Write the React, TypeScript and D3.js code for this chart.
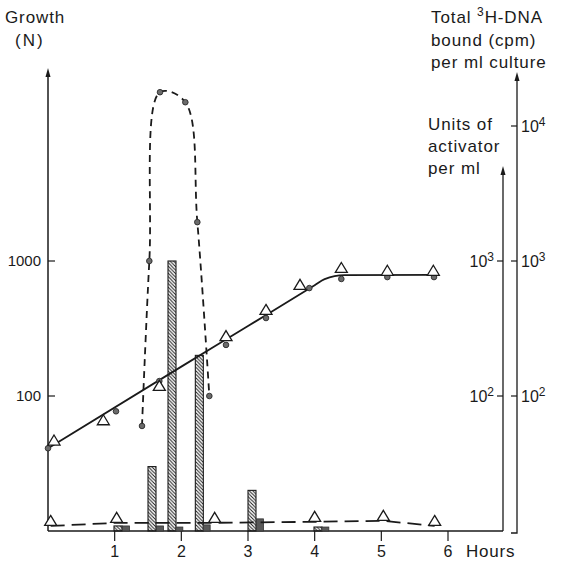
import React, { useEffect, useRef } from "react";
import * as d3 from "d3";

// hours on x, all y axes share one log scale (one decade ~135px)
const hourTicks = [1, 2, 3, 4, 5, 6];
const leftTicks = [100, 1000];
const activatorTicks = [100, 1000];
const boundTicks = [100, 1000, 10000];

// growth (N): open triangles and filled dots, plus the fitted curve
const growthTriangles: [number, number][] = [
  [0.09, 46], [0.83, 65], [1.67, 117], [2.67, 273], [3.27, 427],
  [3.78, 655], [4.4, 873], [5.09, 832], [5.78, 832],
];
const growthDots: [number, number][] = [
  [0, 41], [1.02, 77], [1.67, 129], [2.67, 239], [3.27, 378],
  [3.92, 630], [4.4, 736], [5.09, 760], [5.79, 760],
];
const growthFit: [number, number][] = [
  [0, 41], [2, 165], [3, 330], [4, 661], [4.15, 735], [4.45, 785], [5.8, 790],
];

// total 3H-DNA bound (cpm) per ml culture
const boundDNA: [number, number][] = [
  [1.41, 60], [1.52, 1000], [1.68, 17800], [2.06, 15000], [2.24, 1940], [2.42, 100],
];

// units of activator per ml (hatched) and control (dark boxes)
const activatorHours = [1.05, 1.56, 1.86, 2.27, 3.06, 4.05];
const activatorUnits = [10.9, 30, 1000, 200, 20, 10.7];
const controlHours = [1.17, 1.68, 1.97, 2.38, 3.18, 4.16];
const controlUnits = [10.9, 10.9, 10.7, 11.1, 12.3, 10.7];

// lower dashed series with triangles
const baselineHours = [0.04, 1.03, 2.5, 4.0, 5.03, 5.8];
const baselineValues = [10.9, 11.5, 11.5, 11.7, 11.9, 10.9];

const App = () => {
  const svgRef = useRef<SVGSVGElement>(null);

  useEffect(() => {
    const width = 565;
    const height = 563;
    const svg = d3.select(svgRef.current).attr("width", width).attr("height", height);
    svg.selectAll("*").remove();

    const ink = "#1a1a1a";
    const font = "'Liberation Sans', Arial, sans-serif";

    const x = d3.scaleLinear().domain([0, 6]).range([48, 448]);
    const y = d3.scaleLog().domain([10, 10000]).range([531, 126]);

    const xLeft = 48;
    const xInner = 503;
    const xOuter = 517;
    const yBase = y(10);

    // hatch pattern for activator bars
    const defs = svg.append("defs");
    defs.append("pattern")
      .attr("id", "hatch")
      .attr("patternUnits", "userSpaceOnUse")
      .attr("width", 3.5)
      .attr("height", 3.5)
      .append("path")
      .attr("d", "M-1,-1 L4.5,4.5 M2.5,-1 L4.5,1 M-1,2.5 L1,4.5")
      .attr("stroke", ink)
      .attr("stroke-width", 1);

    const arrow = (ax: number, tipY: number) => {
      svg.append("path")
        .attr("d", `M${ax},${tipY} L${ax - 2.5},${tipY + 9} L${ax + 2.5},${tipY + 9} Z`)
        .attr("fill", ink);
    };

    // === AXES ===
    svg.append("line")
      .attr("x1", xLeft).attr("x2", xLeft)
      .attr("y1", yBase).attr("y2", 72)
      .attr("stroke", ink).attr("stroke-width", 1.5);
    arrow(xLeft, 68);

    svg.append("line")
      .attr("x1", xLeft).attr("x2", xInner)
      .attr("y1", yBase).attr("y2", yBase)
      .attr("stroke", ink).attr("stroke-width", 1.5);

    svg.append("line")
      .attr("x1", xInner).attr("x2", xInner)
      .attr("y1", yBase).attr("y2", 170)
      .attr("stroke", ink).attr("stroke-width", 1.3);
    arrow(xInner, 166);

    svg.append("path")
      .attr("d", `M${xOuter - 6},${yBase + 2} L${xOuter},${yBase + 2} L${xOuter},76`)
      .attr("fill", "none")
      .attr("stroke", ink).attr("stroke-width", 1.3);
    arrow(xOuter, 72);

    // x ticks
    hourTicks.forEach(h => {
      svg.append("line")
        .attr("x1", x(h)).attr("x2", x(h))
        .attr("y1", yBase).attr("y2", yBase + 10)
        .attr("stroke", ink).attr("stroke-width", 1.2);
      svg.append("text")
        .attr("x", x(h)).attr("y", 557)
        .attr("text-anchor", "middle")
        .attr("font-family", font).attr("font-size", 16).attr("fill", ink)
        .text(h);
    });
    svg.append("text")
      .attr("x", 466).attr("y", 557)
      .attr("font-family", font).attr("font-size", 17).attr("fill", ink)
      .attr("letter-spacing", 0.8)
      .text("Hours");

    // left ticks
    leftTicks.forEach(v => {
      svg.append("line")
        .attr("x1", xLeft).attr("x2", xLeft + 7)
        .attr("y1", y(v)).attr("y2", y(v))
        .attr("stroke", ink).attr("stroke-width", 1.2);
      svg.append("text")
        .attr("x", 41).attr("y", y(v)).attr("dy", "0.35em")
        .attr("text-anchor", "end")
        .attr("font-family", font).attr("font-size", 15).attr("fill", ink)
        .text(v);
    });

    const powerLabel = (px: number, py: number, exp: number, anchor: string) => {
      const t = svg.append("text")
        .attr("x", px).attr("y", py).attr("dy", "0.35em")
        .attr("text-anchor", anchor)
        .attr("font-family", font).attr("font-size", 16).attr("fill", ink);
      t.append("tspan").text("10");
      t.append("tspan").attr("dy", "-0.5em").attr("font-size", 12).text(exp);
    };

    activatorTicks.forEach(v => {
      svg.append("line")
        .attr("x1", xInner - 6).attr("x2", xInner)
        .attr("y1", y(v)).attr("y2", y(v))
        .attr("stroke", ink).attr("stroke-width", 1.2);
      powerLabel(494, y(v), Math.round(Math.log10(v)), "end");
    });

    boundTicks.forEach(v => {
      svg.append("line")
        .attr("x1", xOuter - 6).attr("x2", xOuter)
        .attr("y1", y(v)).attr("y2", y(v))
        .attr("stroke", ink).attr("stroke-width", 1.2);
      powerLabel(521, y(v), Math.round(Math.log10(v)), "start");
    });

    // axis titles
    const title = (lines: string[], tx: number, ty: number, lh: number) => {
      lines.forEach((s, i) => {
        svg.append("text")
          .attr("x", tx).attr("y", ty + i * lh)
          .attr("font-family", font).attr("font-size", 17).attr("fill", ink)
          .attr("letter-spacing", 0.9)
          .text(s);
      });
    };
    title(["Growth"], 5, 23, 22);
    svg.append("text")
      .attr("x", 15).attr("y", 46)
      .attr("font-family", font).attr("font-size", 17).attr("fill", ink)
      .attr("letter-spacing", 2)
      .text("(N)");

    const total = svg.append("text")
      .attr("x", 431).attr("y", 23)
      .attr("font-family", font).attr("font-size", 17).attr("fill", ink)
      .attr("letter-spacing", 0.9);
    total.append("tspan").text("Total ");
    total.append("tspan").attr("dy", -7).attr("font-size", 12).text("3");
    total.append("tspan").attr("dy", 7).text("H-DNA");
    title(["bound (cpm)", "per ml culture"], 431, 46, 22);
    title(["Units of", "activator", "per ml"], 428, 130, 22);

    // === ACTIVATOR BARS ===
    const hatchW = 0.12;
    activatorHours.forEach((h, i) => {
      svg.append("rect")
        .attr("x", x(h - hatchW / 2))
        .attr("y", y(activatorUnits[i]))
        .attr("width", x(hatchW) - x(0))
        .attr("height", yBase - y(activatorUnits[i]))
        .attr("fill", "url(#hatch)")
        .attr("stroke", ink).attr("stroke-width", 1.1);
    });
    const ctrlW = 0.105;
    controlHours.forEach((h, i) => {
      svg.append("rect")
        .attr("x", x(h - ctrlW / 2))
        .attr("y", y(controlUnits[i]))
        .attr("width", x(ctrlW) - x(0))
        .attr("height", yBase - y(controlUnits[i]))
        .attr("fill", "#595959")
        .attr("stroke", "#333").attr("stroke-width", 0.8);
    });

    // === LINES ===
    const line = d3.line<[number, number]>()
      .x(d => x(d[0]))
      .y(d => y(d[1]));

    svg.append("path")
      .attr("d", line.curve(d3.curveMonotoneX)(growthFit))
      .attr("fill", "none")
      .attr("stroke", ink).attr("stroke-width", 1.8);

    svg.append("path")
      .attr("d", d3.line<[number, number]>()
        .x(d => x(d[0])).y(d => y(d[1]))
        .curve(d3.curveCatmullRom.alpha(0.5))(boundDNA))
      .attr("fill", "none")
      .attr("stroke", ink).attr("stroke-width", 1.8)
      .attr("stroke-dasharray", "7,5");

    const baseline: [number, number][] = baselineHours.map((h, i) => [h, baselineValues[i]]);
    svg.append("path")
      .attr("d", d3.line<[number, number]>()
        .x(d => x(d[0])).y(d => y(d[1]))(baseline))
      .attr("fill", "none")
      .attr("stroke", ink).attr("stroke-width", 1.8)
      .attr("stroke-dasharray", "14,7");

    // === MARKERS ===
    const tri = "M0,-6.5 L6,3.5 L-6,3.5 Z";
    const triangle = (tx: number, ty: number) => {
      svg.append("path")
        .attr("d", tri)
        .attr("transform", `translate(${tx},${ty})`)
        .attr("fill", "white")
        .attr("stroke", ink).attr("stroke-width", 1.3);
    };
    const dot = (dx: number, dy: number) => {
      svg.append("circle")
        .attr("cx", dx).attr("cy", dy).attr("r", 2.8)
        .attr("fill", "#6b6b6b")
        .attr("stroke", "#2a2a2a").attr("stroke-width", 0.9);
    };

    growthDots.forEach(d => dot(x(d[0]), y(d[1])));
    boundDNA.forEach(d => dot(x(d[0]), y(d[1])));
    growthTriangles.forEach(d => triangle(x(d[0]), y(d[1])));
    baseline.forEach(d => triangle(x(d[0]), y(d[1]) - 4));
  }, []);

  return (
    <div style={{ position: "absolute", left: 0, top: 0, background: "white" }}>
      <svg ref={svgRef}></svg>
    </div>
  );
};

export default App;
